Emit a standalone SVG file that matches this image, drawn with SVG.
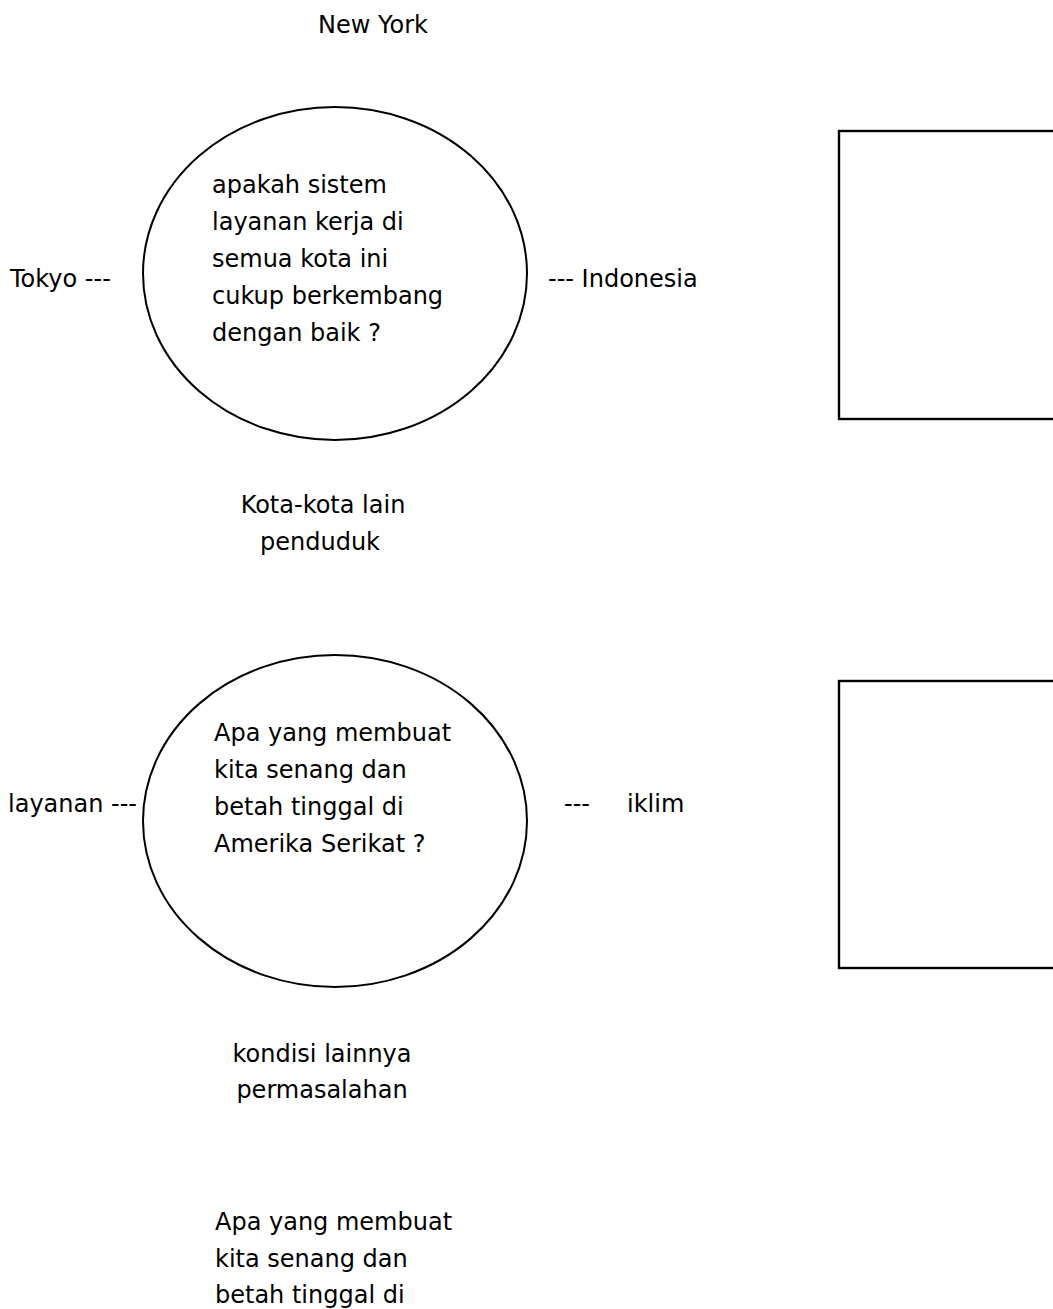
<svg xmlns="http://www.w3.org/2000/svg" width="1053" height="1309" viewBox="0 0 1053 1309">
<style>
.t{font-family:"DejaVu Sans","Liberation Sans",sans-serif;font-size:24px;fill:#000}
.m{text-anchor:middle}
.ell{fill:none;stroke:#000;stroke-width:2}
.box{fill:none;stroke:#000;stroke-width:2.4}
</style>
<rect width="1053" height="1309" fill="#fff"/>
<g id="connectors"></g>
<g id="label-newyork"><text class="t m" x="373" y="33">New York</text></g>
<g id="ellipse1">
<ellipse class="ell" cx="335" cy="273.5" rx="192" ry="166.5"/>
<text class="t" x="212" y="193">apakah sistem</text>
<text class="t" x="212" y="230">layanan kerja di</text>
<text class="t" x="212" y="267">semua kota ini</text>
<text class="t" x="212" y="304">cukup berkembang</text>
<text class="t" x="212" y="341">dengan baik ?</text>
</g>
<g id="label-tokyo"><text class="t" x="10" y="287">Tokyo ---</text></g>
<g id="label-indonesia"><text class="t" x="548" y="287">--- Indonesia</text></g>
<g id="label-kota"><text class="t m" x="323" y="513">Kota-kota lain</text><text class="t m" x="320" y="550">penduduk</text></g>
<g id="box1"><rect class="box" x="839" y="131" width="250" height="288"/></g>
<g id="ellipse2">
<ellipse class="ell" cx="335" cy="821" rx="192" ry="166"/>
<text class="t" x="214" y="741">Apa yang membuat</text>
<text class="t" x="214" y="778">kita senang dan</text>
<text class="t" x="214" y="815">betah tinggal di</text>
<text class="t" x="214" y="852">Amerika Serikat ?</text>
</g>
<g id="label-layanan"><text class="t" x="8" y="812">layanan ---</text></g>
<g id="label-iklim"><text class="t" x="564" y="812">---</text><text class="t" x="627" y="812">iklim</text></g>
<g id="box2"><rect class="box" x="839" y="681" width="250" height="287"/></g>
<g id="label-kondisi"><text class="t m" x="322" y="1062">kondisi lainnya</text><text class="t m" x="322" y="1098">permasalahan</text></g>
<g id="text-bottom">
<text class="t" x="215" y="1230">Apa yang membuat</text>
<text class="t" x="215" y="1267">kita senang dan</text>
<text class="t" x="215" y="1303">betah tinggal di</text>
</g>
</svg>
